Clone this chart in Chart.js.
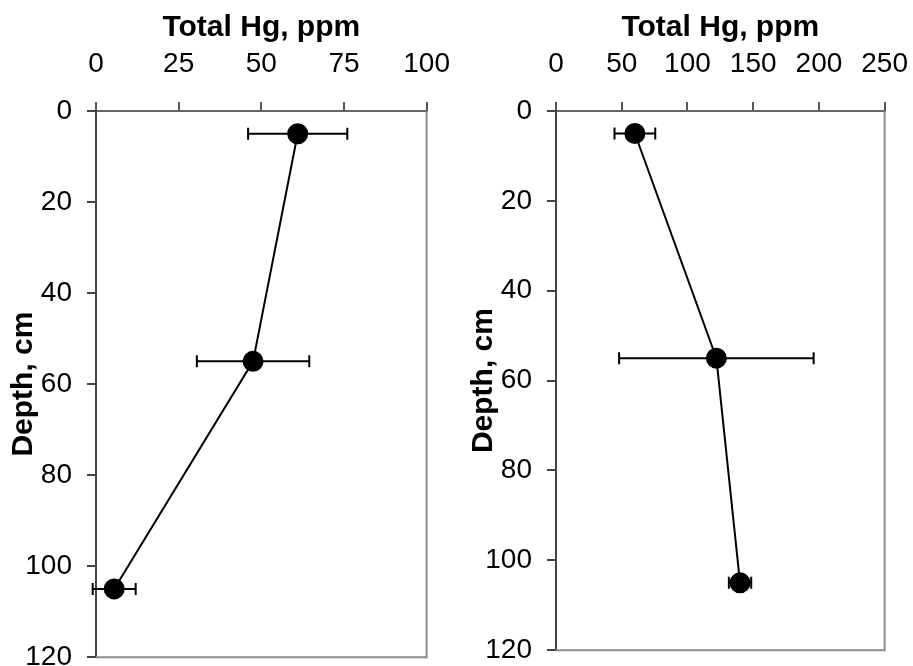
<!DOCTYPE html>
<html>
<head>
<meta charset="utf-8">
<script src="https://cdn.jsdelivr.net/npm/chart.js@4/dist/chart.umd.min.js"></script>
<style>
  body { margin: 0; background: #fff; overflow: hidden; }
  .panel { position: absolute; top: 0; }
  #left { left: 0; width: 471px; height: 689px; }
  #right { left: 460px; width: 469px; height: 682px; }
</style>
</head>
<body>
<div class="panel" id="left"><canvas id="leftChart"></canvas></div>
<div class="panel" id="right"><canvas id="rightChart"></canvas></div>
<script>
// depth of each sampled layer, cm
const depths = [5, 55, 105];

// core 1
const leftHg = [61, 47.5, 5.5];
const leftErr = [15, 17, 6.5];
const leftTicks = [0, 25, 50, 75, 100];

// core 2
const rightHg = [60, 122, 140];
const rightErr = [15.5, 74, 8.5];
const rightTicks = [0, 50, 100, 150, 200, 250];

const depthTicks = [0, 20, 40, 60, 80, 100, 120];

Chart.defaults.font.family = "'Liberation Sans', Arial, sans-serif";
Chart.defaults.color = "#000";

// horizontal error bars with end caps, plus the grey box round the plot
const errorBars = {
  id: "errorBars",
  beforeDatasetsDraw(chart, args, opts) {
    const ctx = chart.ctx;
    const area = chart.chartArea;
    ctx.save();
    ctx.strokeStyle = "#8c8c8c";
    ctx.lineWidth = 2;
    ctx.beginPath();
    ctx.moveTo(area.right, area.top);
    ctx.lineTo(area.right, area.bottom);
    ctx.lineTo(area.left, area.bottom);
    ctx.stroke();

    const xs = chart.scales.x;
    const ys = chart.scales.y;
    ctx.strokeStyle = "#000";
    ctx.lineWidth = 2;
    opts.values.forEach((v, i) => {
      const y = ys.getPixelForValue(opts.depths[i]);
      const x0 = xs.getPixelForValue(v - opts.errors[i]);
      const x1 = xs.getPixelForValue(v + opts.errors[i]);
      ctx.beginPath();
      ctx.moveTo(x0, y);
      ctx.lineTo(x1, y);
      ctx.moveTo(x0, y - 6);
      ctx.lineTo(x0, y + 6);
      ctx.moveTo(x1, y - 6);
      ctx.lineTo(x1, y + 6);
      ctx.stroke();
    });
    ctx.restore();
  },
};

function makeProfile(canvasId, hg, err, xTicks) {
  const ctx = document.getElementById(canvasId).getContext("2d");
  return new Chart(ctx, {
    type: "scatter",
    data: {
      datasets: [
        {
          data: hg.map((v, i) => ({ x: v, y: depths[i] })),
          showLine: true,
          borderColor: "#000",
          borderWidth: 2,
          backgroundColor: "#000",
          pointRadius: 9.5,
          pointHoverRadius: 9.5,
          clip: false,
        },
      ],
    },
    options: {
      responsive: true,
      maintainAspectRatio: false,
      animation: false,
      layout: { padding: { left: 1, right: 0, top: 3, bottom: 0 } },
      plugins: {
        legend: { display: false },
        tooltip: { enabled: false },
        errorBars: { values: hg, errors: err, depths: depths },
      },
      scales: {
        x: {
          type: "linear",
          position: "top",
          min: 0,
          max: xTicks[xTicks.length - 1],
          afterBuildTicks: (s) => {
            s.ticks = xTicks.map((v) => ({ value: v }));
          },
          afterFit: (s) => {
            s.height = 108;
          },
          title: {
            display: true,
            text: "Total Hg, ppm",
            font: { size: 30, weight: "bold" },
            padding: { top: 7, bottom: 0 },
          },
          ticks: { font: { size: 28 }, padding: 21, maxRotation: 0 },
          grid: {
            drawOnChartArea: false,
            tickLength: 9,
            color: "#555",
            lineWidth: 2,
          },
          border: { color: "#666", width: 2 },
        },
        y: {
          type: "linear",
          reverse: true,
          min: 0,
          max: 120,
          afterBuildTicks: (s) => {
            s.ticks = depthTicks.map((v) => ({ value: v }));
          },
          afterFit: (s) => {
            s.width = 95;
          },
          title: {
            display: true,
            text: "Depth, cm",
            font: { size: 30, weight: "bold" },
            padding: { top: 5, bottom: 0 },
          },
          ticks: { font: { size: 28 }, padding: 15 },
          grid: {
            drawOnChartArea: false,
            tickLength: 9,
            color: "#444",
            lineWidth: 2,
          },
          border: { color: "#444", width: 2 },
        },
      },
    },
    plugins: [errorBars],
  });
}

makeProfile("leftChart", leftHg, leftErr, leftTicks);
makeProfile("rightChart", rightHg, rightErr, rightTicks);
</script>
</body>
</html>
